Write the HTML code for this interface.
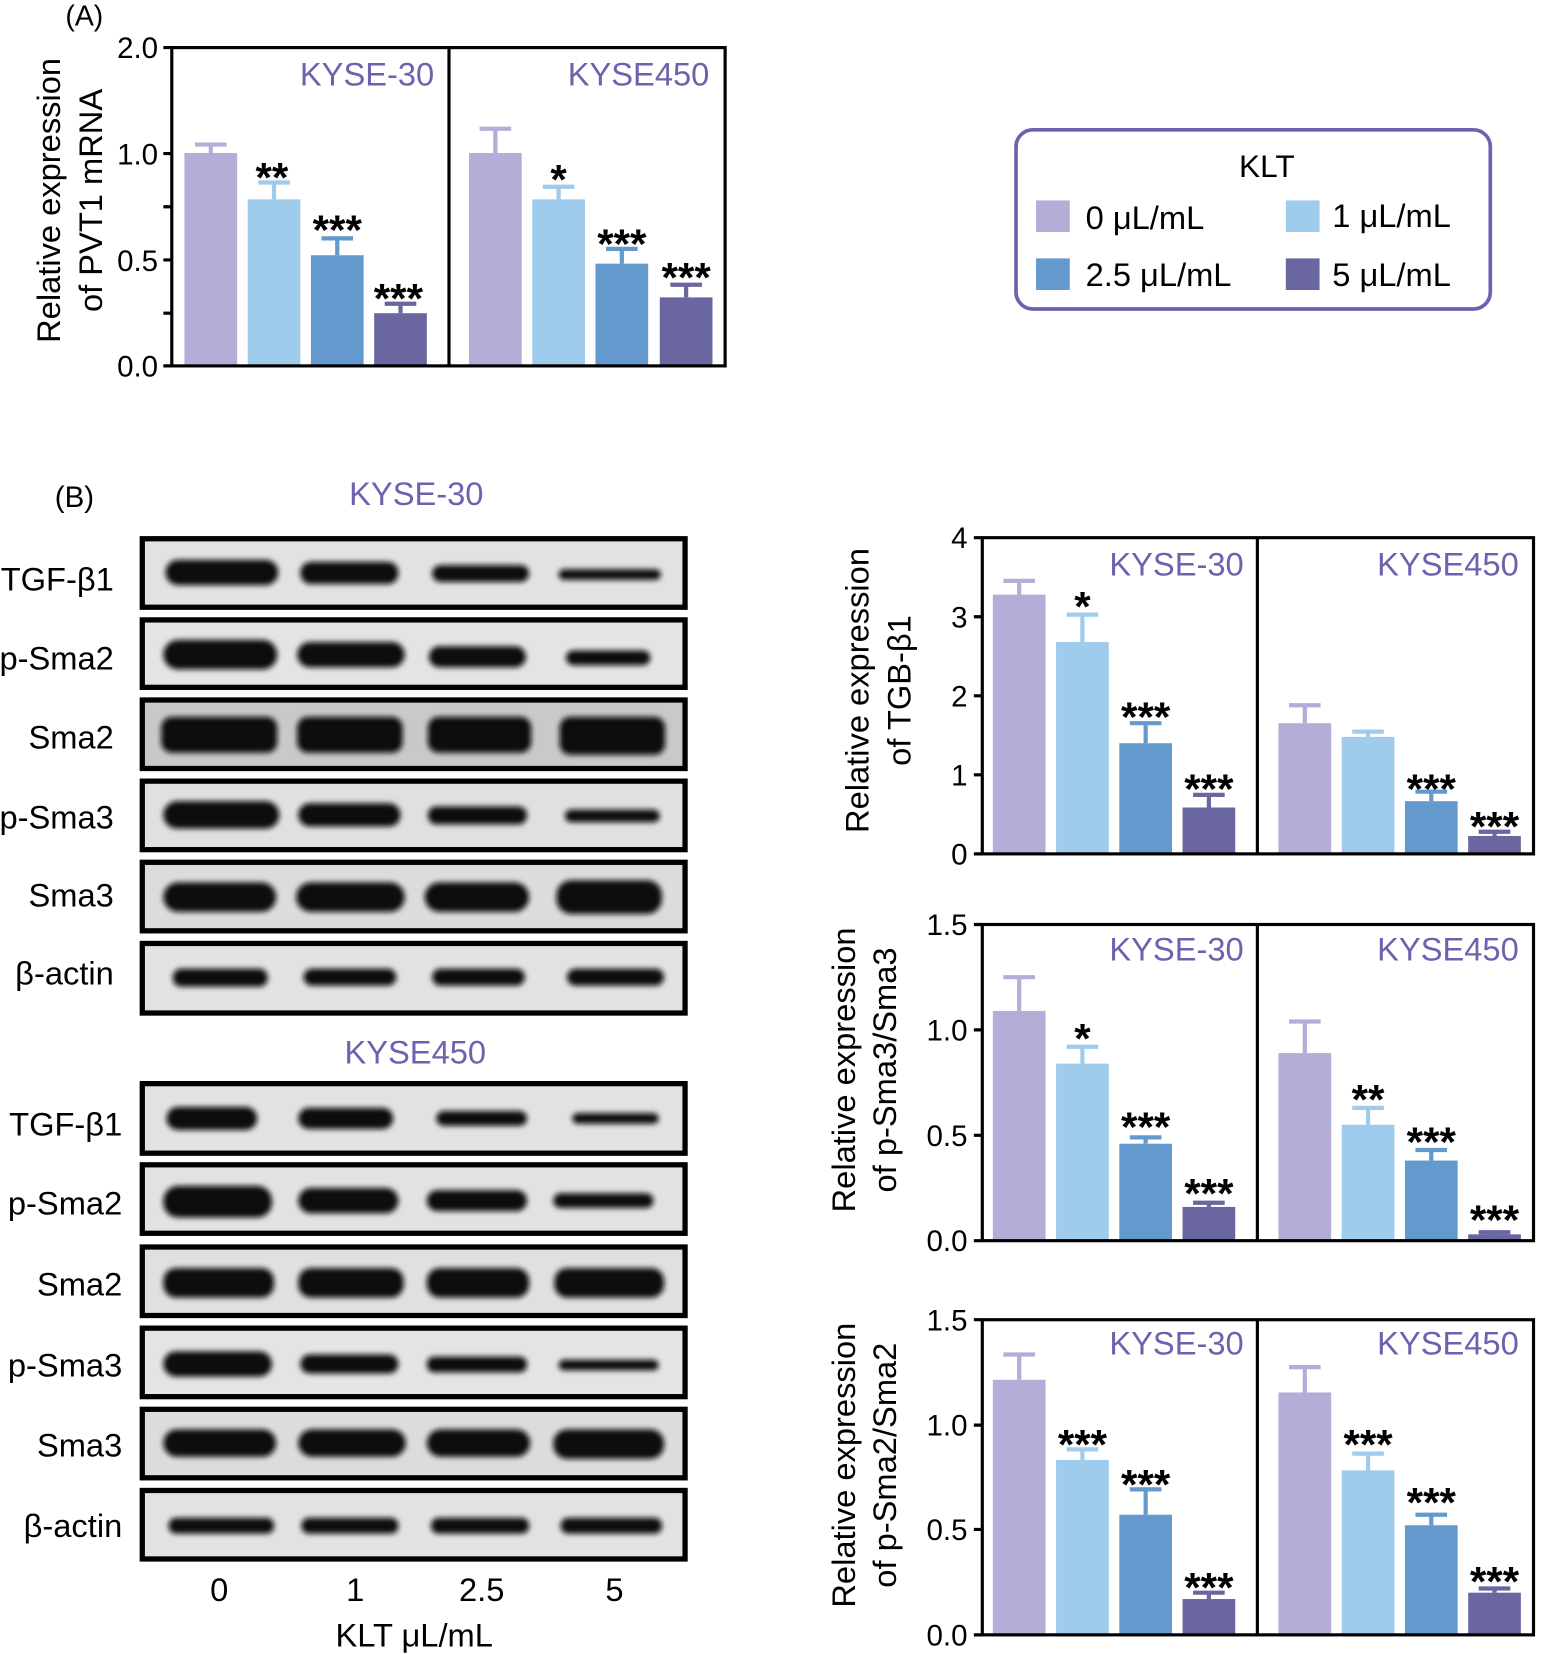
<!DOCTYPE html>
<html><head><meta charset="utf-8"><style>
html,body{margin:0;padding:0;background:#fff}
svg{display:block}
text{font-family:"Liberation Sans",Arial,sans-serif}
</style></head><body>
<svg width="1543" height="1654" viewBox="0 0 1464 1569" xmlns="http://www.w3.org/2000/svg">
<defs><filter id="bl" x="-20%" y="-50%" width="140%" height="200%"><feGaussianBlur stdDeviation="2.5"/></filter></defs>
<style>
.b0{fill:#b3aed8}.b1{fill:#9fcbec}.b2{fill:#6399cc}.b3{fill:#6a66a0}
.e0{stroke:#b3aed8}.e1{stroke:#9fcbec}.e2{stroke:#6399cc}.e3{stroke:#6a66a0}
.err{stroke-width:4;fill:none}
.st{font-size:40px;font-weight:bold;text-anchor:middle;fill:#000}
.tk{font-size:28px;text-anchor:end;fill:#000}
.ttl{font-size:31px;fill:#6b63ad;text-anchor:end}
.yl{font-size:31px;text-anchor:middle;fill:#000}
.lab{font-size:31px;text-anchor:end;fill:#000}
.band{fill:#0a0a0a;filter:url(#bl)}
</style>

<!-- Panel A -->
<text x="62" y="24" font-size="27">(A)</text>
<g class="err">
<path class="e0" d="M200 145V137M185 137H215"/>
<path class="e1" d="M260 189V173M245 173H275"/>
<path class="e2" d="M320 242V226M305 226H335"/>
<path class="e3" d="M380 297V288M365 288H395"/>
<path class="e0" d="M470 145V122M455 122H485"/>
<path class="e1" d="M530 189V177M515 177H545"/>
<path class="e2" d="M590 250V236M575 236H605"/>
<path class="e3" d="M651 282V270M636 270H666"/>
</g>
<rect class="b0" x="175" y="145" width="50" height="202"/>
<rect class="b1" x="235" y="189" width="50" height="158"/>
<rect class="b2" x="295" y="242" width="50" height="105"/>
<rect class="b3" x="355" y="297" width="50" height="50"/>
<rect class="b0" x="445" y="145" width="50" height="202"/>
<rect class="b1" x="505" y="189" width="50" height="158"/>
<rect class="b2" x="565" y="250" width="50" height="97"/>
<rect class="b3" x="626" y="282" width="50" height="65"/>
<text class="st" x="258" y="182">**</text>
<text class="st" x="320" y="232">***</text>
<text class="st" x="378" y="297">***</text>
<text class="st" x="530" y="184">*</text>
<text class="st" x="590" y="245">***</text>
<text class="st" x="651" y="277">***</text>
<rect x="163" y="45" width="525" height="302" fill="none" stroke="#000" stroke-width="3"/>
<line x1="426" y1="45" x2="426" y2="347" stroke="#000" stroke-width="3"/>
<g stroke="#000" stroke-width="3"><path d="M155 45H163M155 145.5H163M155 196H163M155 246.5H163M155 297H163M155 347H163"/></g>
<text class="tk" x="150" y="55">2.0</text>
<text class="tk" x="150" y="156">1.0</text>
<text class="tk" x="150" y="257">0.5</text>
<text class="tk" x="150" y="357">0.0</text>
<text class="ttl" x="412" y="81">KYSE-30</text>
<text class="ttl" x="673" y="81">KYSE450</text>
<text class="yl" transform="translate(57,190) rotate(-90)">Relative expression</text>
<text class="yl" transform="translate(97,190) rotate(-90)">of PVT1 mRNA</text>

<!-- Legend -->
<rect x="964" y="123" width="450" height="170" rx="16" fill="#fff" stroke="#6b63ad" stroke-width="3.5"/>
<text x="1202" y="168" font-size="30" text-anchor="middle">KLT</text>
<rect class="b0" x="983" y="190" width="32" height="30"/>
<text x="1030" y="217" font-size="31">0 μL/mL</text>
<rect class="b1" x="1220" y="190" width="32" height="30"/>
<text x="1264" y="215" font-size="31">1 μL/mL</text>
<rect class="b2" x="983" y="245" width="32" height="30"/>
<text x="1030" y="271" font-size="31">2.5 μL/mL</text>
<rect class="b3" x="1220" y="245" width="32" height="30"/>
<text x="1264" y="271" font-size="31">5 μL/mL</text>

<!-- Panel B blots -->
<text x="52" y="481" font-size="28">(B)</text>
<text x="395" y="479" font-size="31" fill="#6b63ad" text-anchor="middle">KYSE-30</text>
<text x="394" y="1009" font-size="31" fill="#6b63ad" text-anchor="middle">KYSE450</text>

<g stroke="#000" stroke-width="5">
<rect x="135" y="511" width="515" height="65" fill="#e2e2e2"/>
<rect x="135" y="588" width="515" height="64" fill="#e4e4e4"/>
<rect x="135" y="664" width="515" height="65" fill="#c9c9c9"/>
<rect x="135" y="741" width="515" height="65" fill="#e0e0e0"/>
<rect x="135" y="818" width="515" height="65" fill="#dcdcdc"/>
<rect x="135" y="895" width="515" height="66" fill="#e2e2e2"/>
<rect x="135" y="1028" width="515" height="66" fill="#e2e2e2"/>
<rect x="135" y="1105" width="515" height="65" fill="#e2e2e2"/>
<rect x="135" y="1183" width="515" height="65" fill="#e0e0e0"/>
<rect x="135" y="1260" width="515" height="65" fill="#e4e4e4"/>
<rect x="135" y="1337" width="515" height="65" fill="#dcdcdc"/>
<rect x="135" y="1414" width="515" height="65" fill="#e2e2e2"/>
</g>
<g class="band">
<rect x="157" y="531" width="107" height="24" rx="12"/><rect x="285" y="533" width="93" height="21" rx="10"/><rect x="410" y="536" width="92" height="16" rx="8"/><rect x="530" y="540" width="97" height="10" rx="5"/>
<rect x="155" y="607" width="108" height="28" rx="14"/><rect x="282" y="609" width="102" height="24" rx="12"/><rect x="407" y="613" width="92" height="20" rx="10"/><rect x="537" y="617" width="80" height="14" rx="7"/>
<rect x="153" y="680" width="110" height="34" rx="10"/><rect x="282" y="680" width="100" height="34" rx="10"/><rect x="406" y="680" width="98" height="34" rx="10"/><rect x="531" y="680" width="100" height="36" rx="10"/>
<rect x="155" y="760" width="110" height="26" rx="13"/><rect x="283" y="762" width="97" height="22" rx="11"/><rect x="406" y="765" width="94" height="17" rx="8"/><rect x="536" y="768" width="90" height="12" rx="6"/>
<rect x="155" y="837" width="107" height="28" rx="14"/><rect x="281" y="837" width="103" height="28" rx="14"/><rect x="403" y="837" width="99" height="28" rx="14"/><rect x="528" y="835" width="100" height="32" rx="14"/>
<rect x="164" y="919" width="90" height="17" rx="8"/><rect x="288" y="919" width="88" height="16" rx="8"/><rect x="410" y="919" width="88" height="16" rx="8"/><rect x="538" y="919" width="92" height="16" rx="8"/>
<rect x="158" y="1050" width="86" height="22" rx="11"/><rect x="283" y="1051" width="90" height="20" rx="10"/><rect x="414" y="1054" width="86" height="14" rx="7"/><rect x="543" y="1056" width="82" height="10" rx="5"/>
<rect x="155" y="1125" width="103" height="30" rx="14"/><rect x="283" y="1127" width="95" height="24" rx="12"/><rect x="405" y="1129" width="95" height="20" rx="10"/><rect x="525" y="1132" width="95" height="14" rx="7"/>
<rect x="155" y="1203" width="105" height="28" rx="12"/><rect x="283" y="1203" width="100" height="28" rx="12"/><rect x="405" y="1203" width="97" height="28" rx="12"/><rect x="526" y="1203" width="104" height="28" rx="12"/>
<rect x="155" y="1282" width="103" height="24" rx="12"/><rect x="285" y="1285" width="93" height="18" rx="9"/><rect x="405" y="1287" width="95" height="15" rx="7"/><rect x="530" y="1290" width="95" height="10" rx="5"/>
<rect x="155" y="1356" width="107" height="26" rx="13"/><rect x="283" y="1356" width="102" height="26" rx="13"/><rect x="405" y="1356" width="98" height="26" rx="13"/><rect x="525" y="1356" width="105" height="28" rx="13"/>
<rect x="160" y="1440" width="100" height="15" rx="7"/><rect x="286" y="1440" width="92" height="15" rx="7"/><rect x="409" y="1440" width="93" height="15" rx="7"/><rect x="532" y="1440" width="96" height="15" rx="7"/>
</g>
<text class="lab" x="108" y="560">TGF-β1</text>
<text class="lab" x="108" y="635">p-Sma2</text>
<text class="lab" x="108" y="710">Sma2</text>
<text class="lab" x="108" y="786">p-Sma3</text>
<text class="lab" x="108" y="860">Sma3</text>
<text class="lab" x="108" y="934">β-actin</text>
<text class="lab" x="116" y="1077">TGF-β1</text>
<text class="lab" x="116" y="1152">p-Sma2</text>
<text class="lab" x="116" y="1229">Sma2</text>
<text class="lab" x="116" y="1306">p-Sma3</text>
<text class="lab" x="116" y="1382">Sma3</text>
<text class="lab" x="116" y="1458">β-actin</text>
<g font-size="31" text-anchor="middle">
<text x="208" y="1519">0</text><text x="337" y="1519">1</text><text x="457" y="1519">2.5</text><text x="583" y="1519">5</text>
<text x="393" y="1562">KLT μL/mL</text>
</g>

<!-- Chart 1 -->
<g class="err">
<path class="e0" d="M967 564V551M952 551H982"/>
<path class="e1" d="M1027 609V583M1012 583H1042"/>
<path class="e2" d="M1087 705V686M1072 686H1102"/>
<path class="e3" d="M1147 766V754M1132 754H1162"/>
<path class="e0" d="M1238 686V669M1223 669H1253"/>
<path class="e1" d="M1298 699V694M1283 694H1313"/>
<path class="e2" d="M1358 760V751M1343 751H1373"/>
<path class="e3" d="M1418 793V789M1403 789H1433"/>
</g>
<rect class="b0" x="942" y="564" width="50" height="246"/>
<rect class="b1" x="1002" y="609" width="50" height="201"/>
<rect class="b2" x="1062" y="705" width="50" height="105"/>
<rect class="b3" x="1122" y="766" width="50" height="44"/>
<rect class="b0" x="1213" y="686" width="50" height="124"/>
<rect class="b1" x="1273" y="699" width="50" height="111"/>
<rect class="b2" x="1333" y="760" width="50" height="50"/>
<rect class="b3" x="1393" y="793" width="50" height="17"/>
<text class="st" x="1027" y="589">*</text>
<text class="st" x="1087" y="694">***</text>
<text class="st" x="1147" y="762">***</text>
<text class="st" x="1358" y="762">***</text>
<text class="st" x="1418" y="798">***</text>
<rect x="932" y="510" width="523" height="300" fill="none" stroke="#000" stroke-width="3"/>
<line x1="1193" y1="510" x2="1193" y2="810" stroke="#000" stroke-width="3"/>
<path d="M924 510H932M924 585H932M924 660H932M924 735H932M924 810H932" stroke="#000" stroke-width="3"/>
<text class="tk" x="918" y="520">4</text><text class="tk" x="918" y="595">3</text><text class="tk" x="918" y="670">2</text><text class="tk" x="918" y="745">1</text><text class="tk" x="918" y="820">0</text>
<text class="ttl" x="1180" y="546">KYSE-30</text><text class="ttl" x="1441" y="546">KYSE450</text>
<text class="yl" transform="translate(824,655) rotate(-90)">Relative expression</text>
<text class="yl" transform="translate(864,655) rotate(-90)">of TGB-β1</text>

<!-- Chart 2 -->
<g class="err">
<path class="e0" d="M967 959V927M952 927H982"/>
<path class="e1" d="M1027 1009V993M1012 993H1042"/>
<path class="e2" d="M1087 1085V1079M1072 1079H1102"/>
<path class="e3" d="M1147 1145V1141M1132 1141H1162"/>
<path class="e0" d="M1238 999V969M1223 969H1253"/>
<path class="e1" d="M1298 1067V1051M1283 1051H1313"/>
<path class="e2" d="M1358 1101V1091M1343 1091H1373"/>
<path class="e3" d="M1418 1173V1169M1403 1169H1433"/>
</g>
<rect class="b0" x="942" y="959" width="50" height="218"/>
<rect class="b1" x="1002" y="1009" width="50" height="168"/>
<rect class="b2" x="1062" y="1085" width="50" height="92"/>
<rect class="b3" x="1122" y="1145" width="50" height="32"/>
<rect class="b0" x="1213" y="999" width="50" height="178"/>
<rect class="b1" x="1273" y="1067" width="50" height="110"/>
<rect class="b2" x="1333" y="1101" width="50" height="76"/>
<rect class="b3" x="1393" y="1171" width="50" height="6"/>
<text class="st" x="1027" y="999">*</text>
<text class="st" x="1087" y="1083">***</text>
<text class="st" x="1147" y="1146">***</text>
<text class="st" x="1298" y="1057">**</text>
<text class="st" x="1358" y="1097">***</text>
<text class="st" x="1418" y="1171">***</text>
<rect x="932" y="877" width="523" height="300" fill="none" stroke="#000" stroke-width="3"/>
<line x1="1193" y1="877" x2="1193" y2="1177" stroke="#000" stroke-width="3"/>
<path d="M924 877H932M924 977H932M924 1077H932M924 1177H932" stroke="#000" stroke-width="3"/>
<text class="tk" x="918" y="887">1.5</text><text class="tk" x="918" y="987">1.0</text><text class="tk" x="918" y="1087">0.5</text><text class="tk" x="918" y="1187">0.0</text>
<text class="ttl" x="1180" y="911">KYSE-30</text><text class="ttl" x="1441" y="911">KYSE450</text>
<text class="yl" transform="translate(811,1015) rotate(-90)">Relative expression</text>
<text class="yl" transform="translate(850,1015) rotate(-90)">of p-Sma3/Sma3</text>

<!-- Chart 3 -->
<g class="err">
<path class="e0" d="M967 1309V1285M952 1285H982"/>
<path class="e1" d="M1027 1385V1375M1012 1375H1042"/>
<path class="e2" d="M1087 1437V1413M1072 1413H1102"/>
<path class="e3" d="M1147 1517V1511M1132 1511H1162"/>
<path class="e0" d="M1238 1321V1297M1223 1297H1253"/>
<path class="e1" d="M1298 1395V1379M1283 1379H1313"/>
<path class="e2" d="M1358 1447V1437M1343 1437H1373"/>
<path class="e3" d="M1418 1511V1507M1403 1507H1433"/>
</g>
<rect class="b0" x="942" y="1309" width="50" height="242"/>
<rect class="b1" x="1002" y="1385" width="50" height="166"/>
<rect class="b2" x="1062" y="1437" width="50" height="114"/>
<rect class="b3" x="1122" y="1517" width="50" height="34"/>
<rect class="b0" x="1213" y="1321" width="50" height="230"/>
<rect class="b1" x="1273" y="1395" width="50" height="156"/>
<rect class="b2" x="1333" y="1447" width="50" height="104"/>
<rect class="b3" x="1393" y="1511" width="50" height="40"/>
<text class="st" x="1027" y="1384">***</text>
<text class="st" x="1087" y="1422">***</text>
<text class="st" x="1147" y="1520">***</text>
<text class="st" x="1298" y="1384">***</text>
<text class="st" x="1358" y="1439">***</text>
<text class="st" x="1418" y="1514">***</text>
<rect x="932" y="1252" width="523" height="299" fill="none" stroke="#000" stroke-width="3"/>
<line x1="1193" y1="1252" x2="1193" y2="1551" stroke="#000" stroke-width="3"/>
<path d="M924 1252H932M924 1352H932M924 1451H932M924 1551H932" stroke="#000" stroke-width="3"/>
<text class="tk" x="918" y="1262">1.5</text><text class="tk" x="918" y="1362">1.0</text><text class="tk" x="918" y="1461">0.5</text><text class="tk" x="918" y="1561">0.0</text>
<text class="ttl" x="1180" y="1285">KYSE-30</text><text class="ttl" x="1441" y="1285">KYSE450</text>
<text class="yl" transform="translate(811,1390) rotate(-90)">Relative expression</text>
<text class="yl" transform="translate(850,1390) rotate(-90)">of p-Sma2/Sma2</text>
</svg>
</body></html>
